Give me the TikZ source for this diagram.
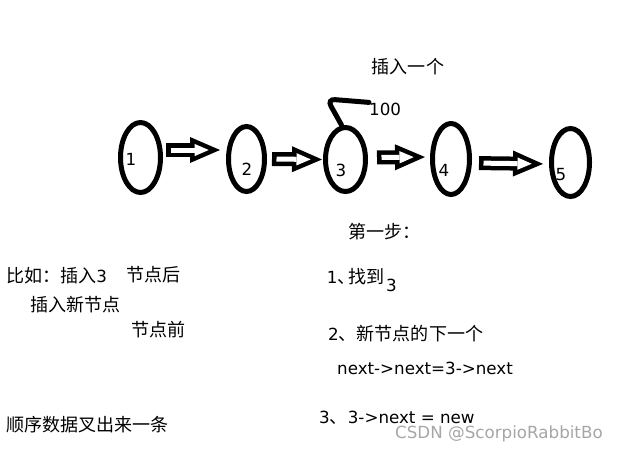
\documentclass[tikz,border=0pt]{standalone}
\usepackage{fontspec}
\setmainfont{DejaVu Sans}
\newfontfamily\cjk[Scale=1.08]{Noto Sans CJK SC}
\usetikzlibrary{arrows.meta,shapes.geometric}

\begin{document}
\begin{tikzpicture}[
    x=1pt, y=-1pt,
    font=\fontsize{16.7}{20}\selectfont,
    ring/.style={draw, ellipse, line width=5pt, inner sep=0pt},
    num/.style={anchor=base, inner sep=0pt},
    txt/.style={anchor=base west, inner sep=0pt},
    blk/.style 2 args={draw=white, line width=5pt,
        -{Triangle[length=14.2pt,width=12.3pt,line width=0pt]},
        shorten <=#1+4.5pt, shorten >=#2+11.3pt,
        preaction={draw=black, line width=14pt,
        -{Triangle[length=30pt,width=26pt,line width=0pt]},
        shorten <=#1, shorten >=#2}},
    hook/.style={draw, line width=5pt, rounded corners=8pt, line cap=round}
]
\useasboundingbox (0,0) rectangle (626,453);

% list nodes
\foreach \i/\x/\y/\w/\h in {1/140.5/157.5/40/70, 2/246.5/159/36/65, 3/345.5/159.5/40/64,
                            4/451/159/37/71, 5/570.5/162.5/38/68}
  \node[ring, minimum width=\w pt, minimum height=\h pt] (e\i) at (\x,\y) {};

\node[num] (n1) at (131,165) {1};
\node[num] (n2) at (247,175) {2};
\node[num] (n3) at (341,176.5) {3};
\node[num] (n4) at (444,176.5) {4};
\node[num] (n5) at (561,180) {5};

% links
\draw[blk={3pt}{6pt}] ([yshift=7.5pt]e1.east) -- ([yshift=9pt]e2.west);
\draw[blk={5pt}{1pt}] (e2.east) -- (e3.west);
\draw[blk={9pt}{5pt}] ([yshift=2pt]e3.east) -- ([yshift=2pt]e4.west);
\draw[blk={7pt}{6pt}] ([yshift=-4pt]e4.east) -- ([yshift=-1.5pt]e5.west);

% new value
\node[txt] (title) at (371.7,73) {\cjk 插入一个};
\node[txt] (val) at (369,115) {100};
\coordinate (bend) at (327,99);
\draw[hook] ([xshift=-4pt]e3.north) -- (bend) -- (val.north west);

% notes
\node[txt] (ex) at (6,282) {\cjk 比如：插入\normalfont 3};
\node[txt] (after) at (126.7,281.5) {\cjk 节点后};
\node[txt] (ins) at (30,311) {\cjk 插入新节点};
\node[txt] (before) at (131,336) {\cjk 节点前};
\node[txt] (seq) at (6,431) {\cjk 顺序数据叉出来一条};

\node[txt] (step) at (348,238) {\cjk 第一步：};
\node[txt] (s1) at (326.7,283) {1{\cjk 、\kern-7pt 找到}};
\node[txt] (s1b) at (386,291.5) {3};
\node[txt] (s2) at (328,340) {2{\cjk 、新节点的下一个}};
\node[txt] (s2b) at (337,374) {next->next=3->next};
\node[txt] (s3) at (319,423) {3{\cjk 、}3->next = new};

\node[txt, text=black!35] (mark) at (395,438) {CSDN @ScorpioRabbitBo};
\end{tikzpicture}
\end{document}
